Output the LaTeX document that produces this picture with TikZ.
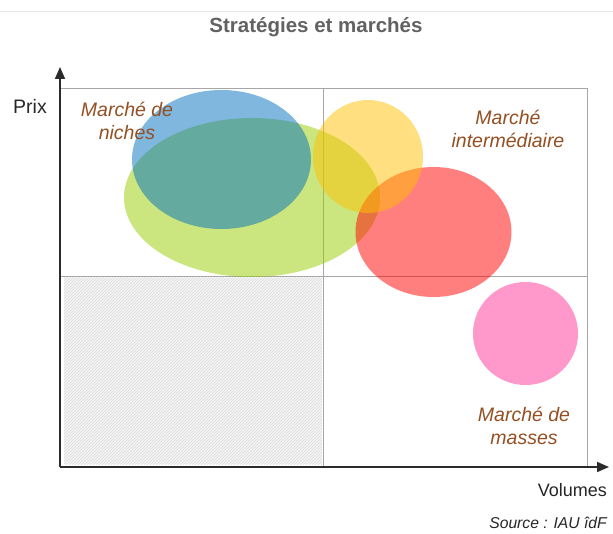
\documentclass[tikz,border=0pt]{standalone}
\usepackage{fontspec}
\setmainfont{Liberation Sans}
\usetikzlibrary{arrows.meta,patterns}
\definecolor{brownlab}{HTML}{944F22}
\definecolor{titlegray}{HTML}{626262}
\definecolor{gridgray}{HTML}{A6A6A6}
\definecolor{axisgray}{HTML}{2B2B2B}
\definecolor{cblue}{HTML}{0070C0}
\definecolor{cgreen}{HTML}{99CC00}
\definecolor{cyellow}{HTML}{FFC000}
\definecolor{cred}{HTML}{FF0000}
\definecolor{cpink}{HTML}{FF3399}
\tikzset{
  gridline/.style={draw=gridgray, line width=0.9pt},
  axisline/.style={draw=axisgray, line width=1.7pt, -{Triangle[length=12pt,width=10pt]}},
  blob/.style={fill opacity=0.5, draw=none},
  market/.style={font=\fontsize{19.5}{23.5}\selectfont\itshape, text=brownlab, align=center, inner sep=0pt},
  axislabel/.style={font=\fontsize{18}{21}\selectfont, text=black!85, inner sep=0pt},
}
\begin{document}
\begin{tikzpicture}[x=1pt,y=-1pt]
\useasboundingbox (0,0) rectangle (613,534);
\fill[white] (0,0) rectangle (613,534);
% faint top rule
\draw[gray!20, line width=0.8pt] (0,11) -- (613,11);
% title
\node[font=\fontsize{20.5}{24}\selectfont\bfseries, text=titlegray] (title) at (316,27) {Stratégies et marchés};
% hatched quadrant
\fill[gray!8] (64,278) rectangle (322,464);
\fill[pattern=north east lines, pattern color=gray!28] (64,278) rectangle (322,464);
% grid
\draw[gridline] (60,88) rectangle (587,466);
\draw[gridline] (323,88) -- (323,466);
\draw[gridline] (60,276) -- (587,276);
% market blobs
\fill[blob, cgreen] (252,197.5) ellipse [x radius=128, y radius=79.5];
\fill[blob, cblue] (221.5,159.5) ellipse [x radius=89.5, y radius=69.5];
\fill[blob, cred] (433.5,232) ellipse [x radius=78, y radius=65];
\fill[blob, cyellow] (368,156.5) ellipse [x radius=55, y radius=56.5];
\fill[blob, cpink] (525.5,333.5) ellipse [x radius=52.5, y radius=51.5];
% axes
\coordinate (origin) at (60,467);
\coordinate (ytip) at (60,67);
\coordinate (xtip) at (609,467);
\draw[axisline] (origin) -- (ytip);
\draw[axisline] (origin) -- (xtip);
% labels
\node[axislabel, font=\fontsize{19.5}{22}\selectfont] (prix) at (30,106) {Prix};
\node[axislabel, anchor=east] (volumes) at (607,490) {Volumes};
\node[font=\fontsize{15.7}{18}\selectfont\itshape, text=black!85, anchor=east, inner sep=0pt] (source) at (607,523) {Source : IAU îdF};
\node[market] (niches) at (127,121) {Marché de\\niches};
\node[market] (inter) at (508,129) {Marché\\intermédiaire};
\node[market] (masses) at (524,426) {Marché de\\masses};
\end{tikzpicture}
\end{document}
